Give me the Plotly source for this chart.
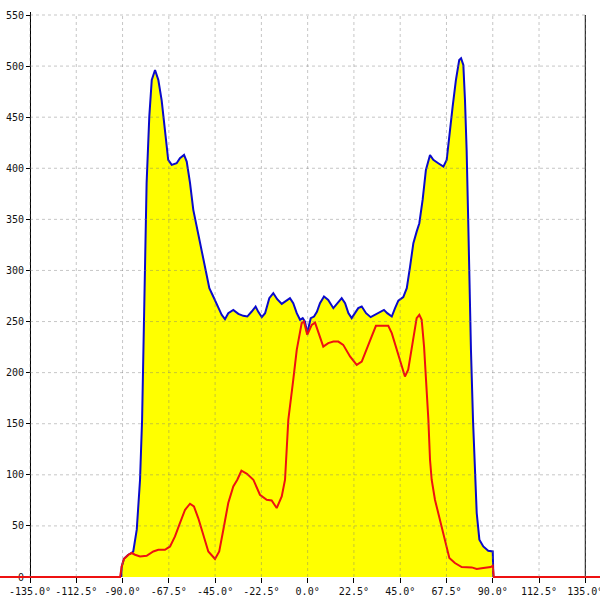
import plotly.graph_objects as go

# Angle (deg) and values of the upper (blue, filled) series
blue_x = [-90.7, -90.4, -89.3, -87.2, -85.55, -84.8, -83.1, -82.3, -81.5, -80.5, -79.6, -79.1,
          -78.3, -77.0, -75.8, -74.2, -72.6, -71.0, -69.4, -67.8, -66.1, -63.7, -62.1, -60.1,
          -58.8, -57.2, -55.6, -53.95, -51.5, -49.1, -47.8, -45.9, -43.45, -41.8, -40.2, -38.6,
          -36.15, -33.7, -31.3, -29.35, -27.2, -25.3, -24.0, -22.3, -20.7, -18.65, -16.7, -14.8,
          -12.6, -10.5, -8.6, -7.0, -5.3, -3.7, -2.4, -1.3, -0.2, 1.5, 3.1, 4.5, 6.0, 7.95, 10.0,
          12.5, 14.4, 16.55, 18.2, 19.8, 21.4, 23.0, 24.6, 26.3, 28.4, 30.65, 32.7, 35.2, 37.1,
          38.7, 40.9, 42.5, 44.1, 46.5, 48.2, 49.8, 51.4, 53.0, 54.3, 55.9, 57.5, 59.5, 61.1, 63.5,
          66.0, 67.6, 68.9, 70.5, 72.1, 73.7, 74.6, 75.7, 76.5, 77.3, 78.1, 78.9, 79.4, 80.4, 81.4,
          82.2, 83.5, 85.4, 87.8, 90.0, 90.3]
blue_y = [0, 10.4, 17.9, 21.8, 23.5, 25.0, 46.3, 69.0, 95.2, 153.9, 241.9, 303.8,
          385.7, 450.5, 486.4, 496.2, 486.4, 466.8, 434.6, 408.2, 403.3, 404.9, 409.8, 413.0,
          406.5, 385.7, 359.3, 342.9, 320.1, 294.0, 282.7, 274.5, 264.7, 256.6, 252.3, 258.2,
          261.4, 257.5, 255.6, 254.9, 259.8, 264.7, 259.5, 254.3, 258.2, 272.9, 277.8, 271.9,
          267.3, 270.5, 272.9, 268.0, 258.2, 251.7, 253.3, 250.0, 238.7, 253.3, 254.9, 259.5, 268.0, 274.5, 271.2,
          263.1, 268.0, 272.9, 268.0, 258.2, 253.3, 258.5, 263.1, 264.7, 258.2, 254.3, 256.6, 259.8, 261.4,
          258.2, 254.9, 263.1, 270.5, 273.9, 282.7, 303.8, 326.7, 338.0, 346.2, 369.0, 398.4, 413.0, 408.2, 404.9,
          401.6, 408.2, 434.3, 460.3, 486.4, 506.0, 507.6, 501.1, 466.8, 417.9, 346.2, 254.9, 222.3, 153.9, 95.2,
          62.6, 36.5, 29.9, 25.7, 25.0, 0]

# Angle (deg) and values of the lower (red) series
red_x = [-150, -91.2, -90.4, -89.3, -87.2, -85.55, -83.95, -81.5, -78.3, -75.05, -72.6, -69.4,
         -66.9, -64.5, -62.1, -59.6, -57.2, -55.3, -53.2, -50.7, -48.3, -45.05, -43.0, -41.0,
         -38.6, -36.15, -34.2, -32.2, -29.5, -26.4, -23.2, -19.9, -17.5, -15.05, -12.6, -11.0,
         -9.4, -7.0, -5.3, -2.9, -1.8, -0.2, 2.0, 3.6, 5.2, 7.6, 10.0, 12.5, 14.9, 17.3, 20.6,
         23.85, 26.3, 28.7, 31.1, 33.2, 36.0, 39.2, 40.9, 43.3, 45.7, 47.3, 48.9, 51.4, 53.0,
         54.3, 55.45, 56.6, 57.9, 58.7, 59.5, 60.3, 61.9, 64.35, 66.8, 68.9, 71.6, 74.9, 79.8,
         82.2, 85.4, 89.0, 90.0, 90.5, 150]
red_y = [0, 0, 10.4, 17.9, 21.8, 23.5, 21.8, 20.1, 20.8, 25.0, 26.7, 26.7,
         29.9, 39.7, 52.8, 65.8, 71.7, 69.1, 57.7, 39.7, 25.0, 17.6, 25.0, 46.3,
         72.4, 88.6, 95.2, 104.0, 101.0, 95.2, 80.5, 75.6, 74.9, 67.5, 78.8, 95.2,
         153.9, 193.0, 222.3, 248.4, 250.0, 237.0, 246.8, 249.0, 238.7, 225.5, 228.9, 230.4, 230.4, 227.2, 215.8,
         207.6, 210.9, 222.3, 235.3, 245.8, 245.8, 245.8, 238.7, 222.3, 206.0, 196.2, 202.8, 235.3, 253.3,
         256.5, 251.7, 225.5, 186.4, 153.9, 114.7, 95.2, 75.6, 56.0, 36.5, 18.6, 13.7, 9.8, 9.4,
         7.8, 8.8, 9.8, 11.0, 0, 0]

x_ticks = [-135.0, -112.5, -90.0, -67.5, -45.0, -22.5, 0.0, 22.5, 45.0, 67.5, 90.0, 112.5, 135.0]
y_ticks = [0, 50, 100, 150, 200, 250, 300, 350, 400, 450, 500, 550]
x_labels = [f"{v:.1f}°" for v in x_ticks]

fig = go.Figure()
fig.add_trace(go.Scatter(x=blue_x, y=blue_y, mode="lines", fill="tozeroy",
                         fillcolor="#ffff00", line=dict(color="#0a0acc", width=2),
                         hoverinfo="skip"))
fig.add_trace(go.Scatter(x=red_x, y=red_y, mode="lines",
                         line=dict(color="#ee1111", width=2), hoverinfo="skip"))

grid_color = "rgba(120,120,120,0.42)"
shapes = []
for v in x_ticks:
    shapes.append(dict(type="line", xref="x", yref="y", x0=v, x1=v, y0=0, y1=y_ticks[-1],
                       line=dict(color=grid_color, width=1, dash="3px,3px"), layer="above"))
for v in y_ticks[1:]:
    shapes.append(dict(type="line", xref="x", yref="y", x0=x_ticks[0], x1=x_ticks[-1], y0=v, y1=v,
                       line=dict(color=grid_color, width=1, dash="3px,3px"), layer="above"))
# right frame line
shapes.append(dict(type="line", xref="x", yref="y", x0=x_ticks[-1], x1=x_ticks[-1], y0=0, y1=y_ticks[-1],
                   line=dict(color="black", width=1), layer="below"))

font = dict(family="DejaVu Sans Mono", size=10, color="#111")
fig.update_layout(
    width=600, height=600,
    margin=dict(l=0, r=0, t=12, b=20),
    paper_bgcolor="white", plot_bgcolor="white",
    showlegend=False,
    shapes=shapes,
    font=font,
    xaxis=dict(range=[-149.59, 142.15], showgrid=False, zeroline=False, showline=False,
               tickmode="array", tickvals=x_ticks, ticktext=x_labels,
               ticks="outside", ticklen=5, tickcolor="black", tickwidth=1,
               anchor="free", position=3 / 568, layer="below traces", tickfont=font,
               automargin=False, ticklabeloverflow="allow"),
    yaxis=dict(range=[-2.936, 552.936], showgrid=False, zeroline=False,
               showline=True, linecolor="black", linewidth=1,
               tickmode="array", tickvals=y_ticks,
               ticks="outside", ticklen=4, tickcolor="black", tickwidth=1,
               anchor="free", position=30 / 600, layer="below traces", tickfont=font,
               automargin=False, ticklabeloverflow="allow"),
)
fig.write_html(
    "out.html",
    config={"displayModeBar": False},
    post_script="document.body.style.margin='0';document.body.style.overflow='hidden';",
)
